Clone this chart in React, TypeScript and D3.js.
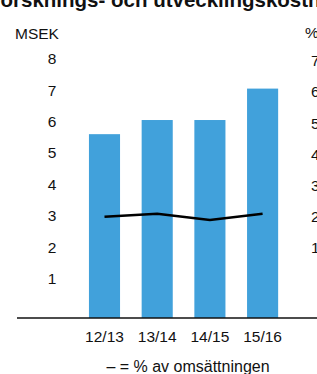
import * as d3 from "d3";

const categories = ["12/13", "13/14", "14/15", "15/16"];
const costValues = [5.85, 6.3, 6.3, 7.3];
const percentValues = [2.25, 2.35, 2.15, 2.35];
const leftTicks = [1, 2, 3, 4, 5, 6, 7, 8];
const rightTicks = [1, 2, 3, 4, 5, 6, 7];

const title = "Forsknings- och utvecklingskostnader";
const legendText = "– = % av omsättningen";

export default function App() {
  const width = 317;
  const height = 374;
  const font = "'Liberation Sans', Arial, Helvetica, sans-serif";
  const fs = 15.5;

  const xScale = d3.scaleBand().domain(categories).range([62.6, 304.5]).paddingInner(0.41).paddingOuter(0.5);
  const yLeft = d3.scaleLinear().domain([0, 8]).range([318, 66.6]);
  const yRight = d3.scaleLinear().domain([0, 7]).range([287.1, 68.6]);

  const line = d3
    .line<number>()
    .x((_, i) => (xScale(categories[i]) ?? 0) + xScale.bandwidth() / 2)
    .y((d) => yRight(d));

  return (
    <svg
      width={width}
      height={height}
      style={{ position: "absolute", left: 0, top: 0, background: "#fff" }}
      fontFamily={font}
    >
      <text x={-12} y={7} fontSize={20.5} fontWeight="bold" fill="#111">
        {title}
      </text>

      <text x={15} y={38.5} fontSize={fs} fill="#111">
        MSEK
      </text>
      <text x={305} y={38} fontSize={fs} fill="#111">
        %
      </text>

      {leftTicks.map((t) => (
        <text key={`l-${t}`} x={52} y={yLeft(t) - 2.5} textAnchor="middle" fontSize={fs} fill="#111">
          {t}
        </text>
      ))}

      {rightTicks.map((t) => (
        <text key={`r-${t}`} x={311} y={yRight(t) - 2.5} fontSize={fs} fill="#111">
          {t}
        </text>
      ))}

      {costValues.map((v, i) => (
        <rect
          key={`bar-${categories[i]}`}
          x={xScale(categories[i])}
          y={yLeft(v)}
          width={xScale.bandwidth()}
          height={yLeft(0) - yLeft(v)}
          fill="#41a1db"
        />
      ))}

      <path d={line(percentValues) ?? ""} fill="none" stroke="#000" strokeWidth={2.5} />

      <line x1={17} x2={317} y1={yLeft(0)} y2={yLeft(0)} stroke="#111" strokeWidth={1.5} />

      {categories.map((c) => (
        <text
          key={`x-${c}`}
          x={(xScale(c) ?? 0) + xScale.bandwidth() / 2}
          y={341.5}
          textAnchor="middle"
          fontSize={fs}
          fill="#111"
        >
          {c}
        </text>
      ))}

      <text x={188} y={372} textAnchor="middle" fontSize={16} fill="#111">
        {legendText}
      </text>
    </svg>
  );
}
